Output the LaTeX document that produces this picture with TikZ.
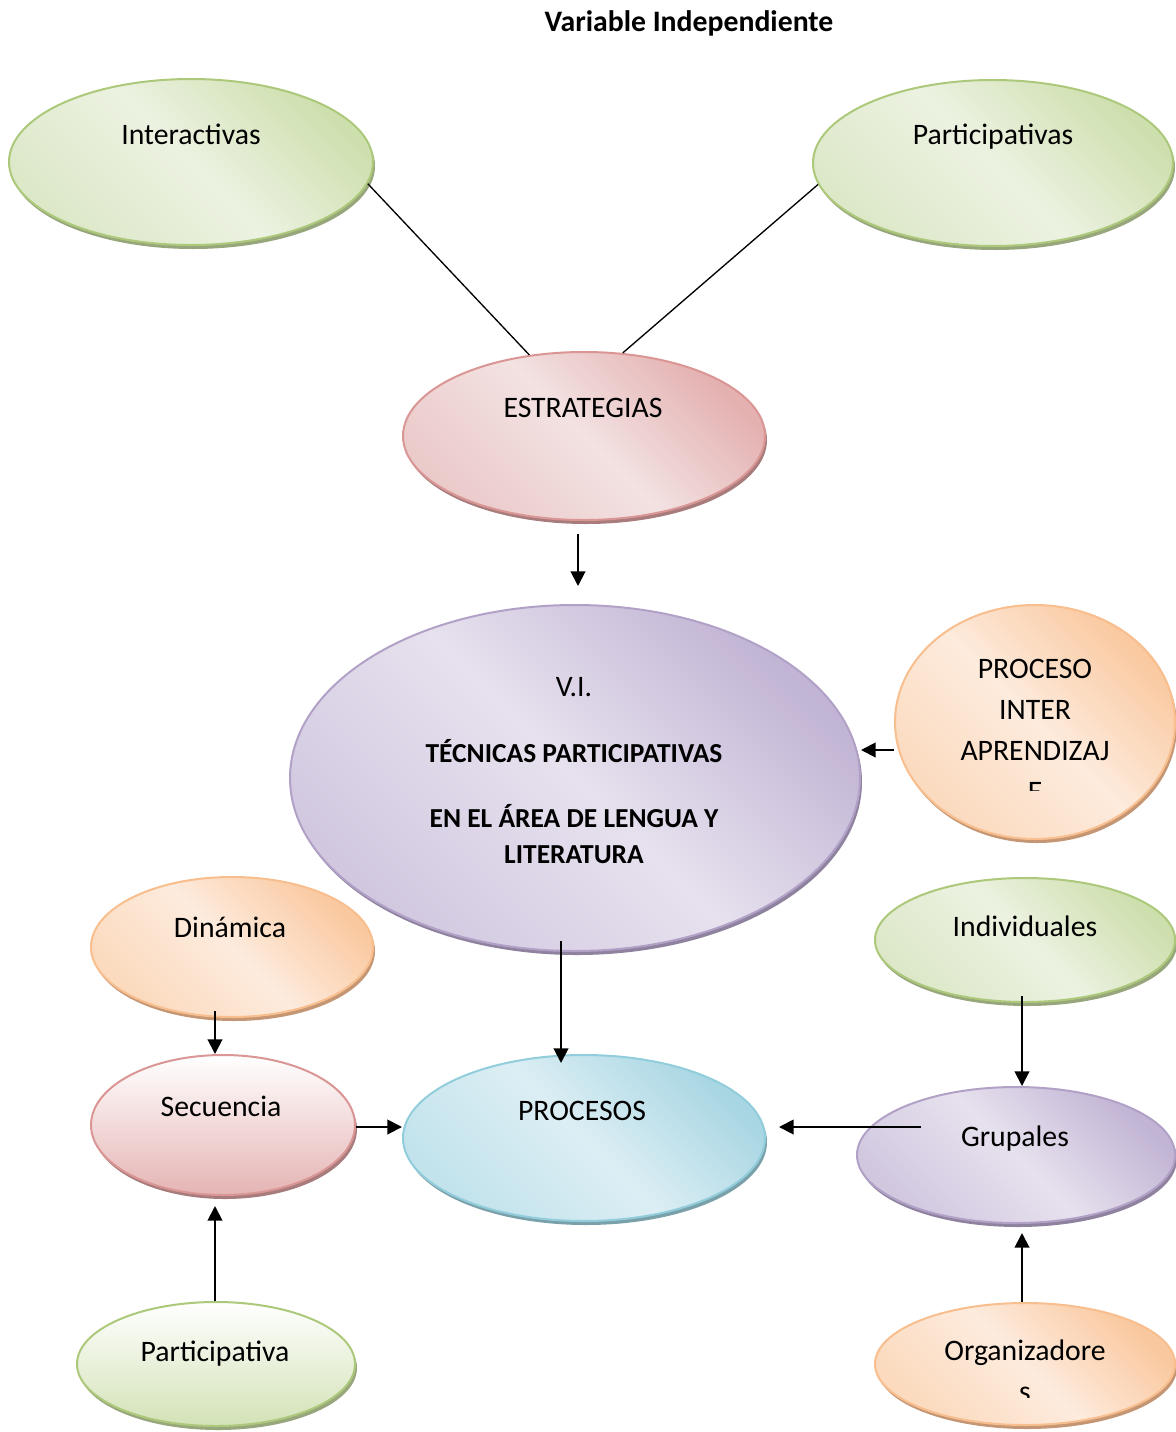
\documentclass[tikz,border=0pt]{standalone}
\usepackage{fontspec}
\setmainfont{Carlito}
\usetikzlibrary{shapes.geometric,shadows,arrows.meta}

\definecolor{grnLine}{RGB}{172,200,122}
\definecolor{grnDark}{RGB}{206,223,174}
\definecolor{grnMid}{RGB}{221,232,201}
\definecolor{grnLight}{RGB}{236,242,225}
\definecolor{grnShade}{RGB}{152,166,124}
\definecolor{redLine}{RGB}{217,150,148}
\definecolor{redDark}{RGB}{228,176,176}
\definecolor{redMid}{RGB}{235,202,202}
\definecolor{redLight}{RGB}{243,226,226}
\definecolor{redShade}{RGB}{168,124,124}
\definecolor{purLine}{RGB}{178,161,199}
\definecolor{purDark}{RGB}{193,180,212}
\definecolor{purMid}{RGB}{209,200,224}
\definecolor{purLight}{RGB}{231,225,238}
\definecolor{purShade}{RGB}{142,130,158}
\definecolor{orgLine}{RGB}{248,190,142}
\definecolor{orgDark}{RGB}{250,200,158}
\definecolor{orgMid}{RGB}{251,218,190}
\definecolor{orgLight}{RGB}{253,235,221}
\definecolor{orgShade}{RGB}{196,150,116}
\definecolor{bluLine}{RGB}{146,205,220}
\definecolor{bluDark}{RGB}{168,214,227}
\definecolor{bluMid}{RGB}{194,227,236}
\definecolor{bluLight}{RGB}{220,238,244}
\definecolor{bluShade}{RGB}{122,160,170}

\tikzset{every picture/.style={line width=0.75pt}}
\tikzset{
	blob/.style={ellipse, draw, line width=1.5pt, inner sep=0pt},
	grnfill/.style={top color=grnDark, bottom color=grnMid, middle color=grnLight, shading angle=-45, draw=grnLine,
		drop shadow={shadow xshift=1.5pt, shadow yshift=-3pt, fill=grnShade, opacity=1}},
	grnvert/.style={top color=white, bottom color=grnDark!90, draw=grnLine,
		drop shadow={shadow xshift=1.5pt, shadow yshift=-3pt, fill=grnShade, opacity=1}},
	redfill/.style={top color=redDark, bottom color=redMid, middle color=redLight, shading angle=-45, draw=redLine,
		drop shadow={shadow xshift=1.5pt, shadow yshift=-3pt, fill=redShade, opacity=1}},
	redvert/.style={top color=white, bottom color=redDark!95, draw=redLine,
		drop shadow={shadow xshift=1.5pt, shadow yshift=-3pt, fill=redShade, opacity=1}},
	purfill/.style={top color=purDark, bottom color=purMid, middle color=purLight, shading angle=-45, draw=purLine,
		drop shadow={shadow xshift=1.5pt, shadow yshift=-3pt, fill=purShade, opacity=1}},
	orgfill/.style={top color=orgDark, bottom color=orgMid, middle color=orgLight, shading angle=-45, draw=orgLine,
		drop shadow={shadow xshift=1.5pt, shadow yshift=-3pt, fill=orgShade, opacity=1}},
	blufill/.style={top color=bluDark, bottom color=bluMid, middle color=bluLight, shading angle=-45, draw=bluLine,
		drop shadow={shadow xshift=1.5pt, shadow yshift=-3pt, fill=bluShade, opacity=1}},
	lbl/.style={font=\fontsize{22.3}{30.75}\selectfont, inner sep=0pt, align=center, anchor=base},
	arr/.style={line width=1.5pt, -{Triangle[length=11pt,width=11pt]}},
	link/.style={line width=1pt}
}
\newcommand{\vibold}[1]{{\fontsize{20.6}{30.75}\selectfont\bfseries #1}}

\begin{document}
\begin{tikzpicture}[x=0.75pt,y=0.75pt,yscale=-1,xscale=1]
	\useasboundingbox (0,0) rectangle (1176,1432);

	% Title
	\node[lbl, font=\fontsize{22.3}{30.75}\selectfont\bfseries] (titulo) at (689,31) {Variable Independiente};

	%Shape: Ellipse
	\node[blob, grnfill, minimum width=273pt, minimum height=124.5pt] (inter) at (191,162) {};
	%Shape: Ellipse
	\node[blob, grnfill, minimum width=270pt, minimum height=124.5pt] (partic) at (993,163) {};
	%Shape: Ellipse
	\node[blob, redfill, minimum width=271.5pt, minimum height=126pt] (estr) at (584,436) {};
	%Shape: Ellipse
	\node[blob, purfill, minimum width=427.5pt, minimum height=259.5pt] (vi) at (575,778) {};
	%Shape: Ellipse
	\node[blob, orgfill, minimum width=210pt, minimum height=175.5pt] (pinter) at (1035,722) {};
	%Shape: Ellipse
	\node[blob, orgfill, minimum width=211.5pt, minimum height=105pt] (dinam) at (232,947) {};
	%Shape: Ellipse
	\node[blob, redvert, minimum width=198pt, minimum height=105pt] (secu) at (223,1125) {};
	%Shape: Ellipse
	\node[blob, grnvert, minimum width=208.5pt, minimum height=93pt] (partv) at (216,1364) {};
	%Shape: Ellipse
	\node[blob, blufill, minimum width=271.5pt, minimum height=124.5pt] (procs) at (584,1138) {};
	%Shape: Ellipse
	\node[blob, grnfill, minimum width=225pt, minimum height=93pt] (indiv) at (1025,940) {};
	%Shape: Ellipse
	\node[blob, purfill, minimum width=238.5pt, minimum height=102pt] (grup) at (1016,1155) {};
	%Shape: Ellipse
	\node[blob, orgfill, minimum width=225pt, minimum height=91.5pt] (organ) at (1025,1364) {};

	%Straight Lines
	\draw[link] (inter.-7) -- (estr.124);
	%Straight Lines
	\draw[link] (partic.-173) -- (estr.65.5);

	%Arrows
	\draw[arr] ([xshift=-4.5pt,yshift=9.75pt]estr.south) -- ([xshift=2.25pt,yshift=-13.5pt]vi.north);
	\draw[arr] ([yshift=21pt]pinter.west) -- ([yshift=21pt]pinter.west -| vi.east);
	\draw[arr] ([xshift=-10.5pt,yshift=-8.25pt]vi.south) -- ([xshift=-17.25pt,yshift=6.75pt]procs.north);
	\draw[arr] ([xshift=-12.75pt,yshift=-5.25pt]dinam.south) -- ([xshift=-6pt]secu.north);
	\draw[arr] ([xshift=-0.75pt]partv.north) -- ([xshift=-6pt,yshift=7.5pt]secu.south);
	\draw[arr] ([yshift=1.5pt]secu.east) -- ([yshift=-8.25pt]procs.west);
	\draw[arr] ([xshift=-2.25pt,yshift=-5.25pt]indiv.south) -- ([xshift=4.5pt]grup.north);
	\draw[arr] ([xshift=48.75pt,yshift=-21pt]grup.west) -- ([xshift=9.75pt,yshift=-8.25pt]procs.east);
	\draw[arr] ([xshift=-2.25pt]organ.north) -- ([xshift=4.5pt,yshift=6.75pt]grup.south);

	% Text Node
	\node[lbl] (tInter) at (191,144) {Interactivas};
	% Text Node
	\node[lbl] (tPartic) at (993,144) {Participativas};
	% Text Node
	\node[lbl] (tEstr) at (583,417) {ESTRATEGIAS};
	% Text Node
	\node[lbl] (tVi) at (574,863) {V.I.\\[18.75pt]
		\vibold{TÉCNICAS PARTICIPATIVAS}\\[18pt]
		\vibold{EN EL ÁREA DE LENGUA Y}\\[-3.75pt]
		\vibold{LITERATURA}};
	% Text Node
	\begin{scope}
		\clip (880,600) rectangle (1176,790);
		\node[lbl] (tPinter) at (1035,801) {PROCESO\\INTER\\APRENDIZAJ\\E};
	\end{scope}
	% Text Node
	\node[lbl] (tDinam) at (230,937) {Dinámica};
	% Text Node
	\node[lbl] (tSecu) at (221,1116) {Secuencia};
	% Text Node
	\node[lbl] (tPartv) at (215,1361) {Participativa};
	% Text Node
	\node[lbl] (tProcs) at (582,1120) {PROCESOS};
	% Text Node
	\node[lbl] (tIndiv) at (1025,936) {Individuales};
	% Text Node
	\node[lbl] (tGrup) at (1015,1146) {Grupales};
	% Text Node
	\begin{scope}
		\clip (870,1300) rectangle (1176,1397);
		\node[lbl] (tOrgan) at (1025,1401) {Organizadore\\s};
	\end{scope}

\end{tikzpicture}
\end{document}
